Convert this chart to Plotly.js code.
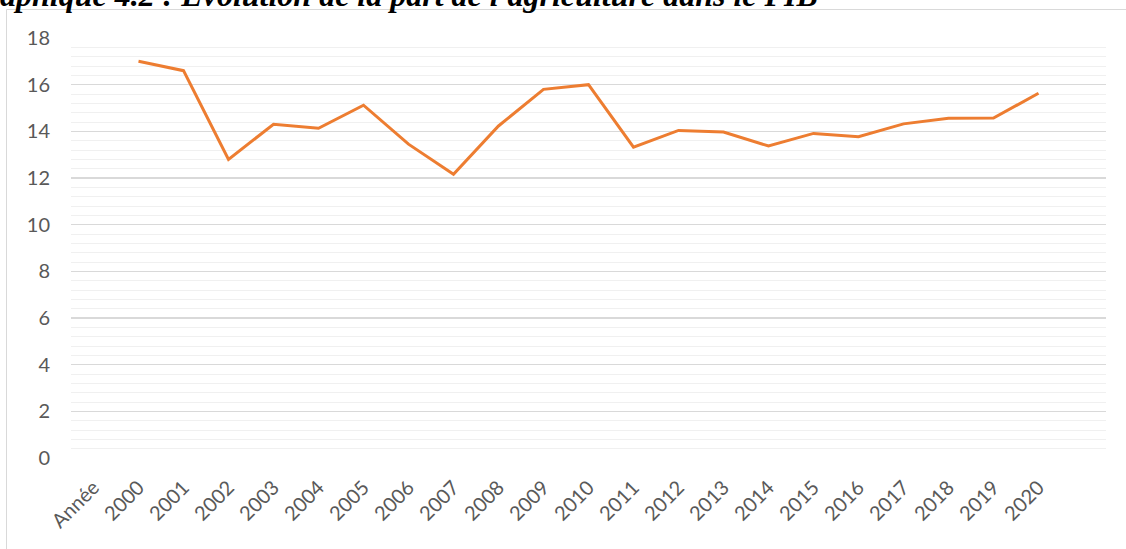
<!DOCTYPE html>
<html>
<head>
<meta charset="utf-8">
<script src="https://cdn.plot.ly/plotly-3.0.1.min.js"></script>
<style>
html,body{margin:0;padding:0;background:#fff;}
#chart{width:1126px;height:549px;}
</style>
</head>
<body>
<div id="chart"></div>
<script>
const categories = ["Année","2000","2001","2002","2003","2004","2005","2006","2007","2008","2009","2010","2011","2012","2013","2014","2015","2016","2017","2018","2019","2020",""];
const years = ["2000","2001","2002","2003","2004","2005","2006","2007","2008","2009","2010","2011","2012","2013","2014","2015","2016","2017","2018","2019","2020"];
const agriShare = [17.0,16.6,12.8,14.3,14.13,15.12,13.45,12.16,14.23,15.8,16.0,13.32,14.04,13.97,13.37,13.91,13.77,14.32,14.56,14.57,15.63];
const yTicks = [0,2,4,6,8,10,12,14,16,18];
const titleText = "aphique 4.2 : Evolution de la part de l'agriculture dans le PIB";

const W = 1126, H = 549;
const m = {l:71, r:20, t:38, b:91};
const pw = W - m.l - m.r, ph = H - m.t - m.b;
const px = x => (x - m.l)/pw;
const py = y => 1 - (y - m.t)/ph;

const xIdx = years.map(y => categories.indexOf(y));

const trace = {
  x: xIdx, y: agriShare, type: 'scatter', mode: 'lines',
  line: {color: '#ED7D31', width: 3}, hoverinfo: 'skip'
};

const layout = {
  width: W, height: H,
  margin: m,
  paper_bgcolor: '#fff', plot_bgcolor: '#fff',
  showlegend: false,
  font: {family: 'Lato, "Open Sans", sans-serif', color: '#595959', size: 20},
  xaxis: {
    range: [-0.5, categories.length - 0.5],
    tickmode: 'array',
    tickvals: categories.map((c,i)=>i),
    ticktext: categories,
    tickangle: -45,
    ticklabelstandoff: 13,
    showgrid: false, zeroline: false, showline: false,
    ticks: '', fixedrange: true,
    tickfont: {size: 20, color: '#595959'}
  },
  yaxis: {
    range: [0, 18],
    tickmode: 'array', tickvals: yTicks,
    showgrid: true, gridcolor: '#d9d9d9', gridwidth: 1.5,
    zeroline: false, showline: false, ticks: '',
    ticklabelstandoff: 20,
    tickfont: {size: 20, color: '#595959'},
    minor: {dtick: 0.4, showgrid: true, gridcolor: '#f0f0f0', gridwidth: 1, ticks: ''},
    fixedrange: true
  },
  shapes: [
    {type: 'line', xref: 'paper', yref: 'paper', x0: px(6.5), x1: px(1130), y0: py(9.5), y1: py(9.5), line: {color: '#d9d9d9', width: 1}},
    {type: 'line', xref: 'paper', yref: 'paper', x0: px(6.5), x1: px(6.5), y0: py(9.5), y1: py(560), line: {color: '#d9d9d9', width: 1}}
  ],
  annotations: [
    {text: '<b><i>' + titleText + '</i></b>', xref: 'paper', yref: 'paper', x: px(-2), y: py(15), xanchor: 'left', yanchor: 'bottom',
     showarrow: false, font: {family: '"Liberation Serif", "Times New Roman", serif', size: 32, color: '#000'}}
  ]
};

Plotly.newPlot('chart', [trace], layout, {displayModeBar: false, staticPlot: true});
</script>
</body>
</html>
